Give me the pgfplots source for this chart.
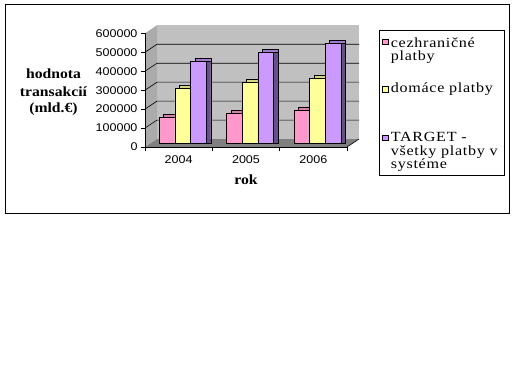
\documentclass[border=0pt]{standalone}
\usepackage{fontspec}
\usepackage{pgfplots}
\usepackage{pgfplotstable}
\pgfplotsset{compat=1.18}
\newfontfamily\tkf[FakeStretch=1.12]{Liberation Sans}
\newfontfamily\srf[FakeStretch=1.12]{Liberation Serif}
\newfontfamily\legf[FakeStretch=1.15,LetterSpace=5]{Liberation Serif}
\definecolor{cpink}{HTML}{FF99CC}
\definecolor{cpinkD}{HTML}{B36B8F}
\definecolor{cpinkT}{HTML}{D680AB}
\definecolor{cyel}{HTML}{FFFF99}
\definecolor{cyelD}{HTML}{B3B36B}
\definecolor{cyelT}{HTML}{D6D680}
\definecolor{cpur}{HTML}{CC99FF}
\definecolor{cpurD}{HTML}{66508A}
\definecolor{cpurT}{HTML}{A37ACC}
\definecolor{wallback}{HTML}{C0C0C0}
\definecolor{wallleft}{HTML}{ABABAB}
\definecolor{floorc}{HTML}{808080}
\pgfplotstableread{
year pink yellow purple
2004 137000 290000 431000
2005 158000 320000 480000
2006 176000 343000 528000
}\datatable
\begin{document}
\begin{tikzpicture}
\begin{scope}[x=1pt,y=1pt]
\path[use as bounding box] (0,0) rectangle (517,384);
\fill[white] (0,0) rectangle (517,384);
\draw[line width=0.8pt] (5,170.5) rectangle (509.5,380);
% walls
\fill[wallback] (157,245) rectangle (359,358.7);
\fill[wallleft] (145,237) -- (157,245) -- (157,358.7) -- (145,350.7) -- cycle;
\fill[floorc] (145,237) -- (347,237) -- (359,245) -- (157,245) -- cycle;
\foreach \k in {1,...,5} \draw[line width=0.6pt] (145,{237+\k*18.95}) -- (157,{245+\k*18.95}) -- (359,{245+\k*18.95});
\draw[line width=0.6pt] (347,237) -- (359,245);
% legend
\draw[line width=0.8pt, fill=white] (379.3,209) rectangle (504,354);
\draw[line width=0.5pt, fill=cpink] (382.7,339.3) rectangle (388.7,344.7);
\draw[line width=0.5pt, fill=cyel] (382.7,292) rectangle (388.7,297.3);
\draw[line width=0.5pt, fill=cpur] (382.7,243.3) rectangle (388.7,249);
\begin{scope}[every node/.style={anchor=base west, inner sep=0pt, font=\legf\fontsize{14}{15}\selectfont}]
\node at (390.7,337) {cezhraničné};
\node at (390.7,323.7) {platby};
\node at (390.7,291.3) {domáce platby};
\node at (390.7,242.3) {TARGET -};
\node at (390.7,229) {všetky platby v};
\node at (390.7,215.7) {systéme};
\end{scope}
\begin{scope}[every node/.style={anchor=base, inner sep=0pt, font=\srf\bfseries\fontsize{14}{16}\selectfont}]
\node at (53.5,306) {hodnota};
\node at (53.5,288) {transakcií};
\node at (53.5,272) {(mld.€)};
\node at (246,200) {rok};
\end{scope}
\end{scope}
\begin{axis}[
  at={(145pt,237pt)}, anchor=south west,
  scale only axis, width=202pt, height=113.7pt,
  clip=false,
  xmin=2003.5, xmax=2006.5, ymin=0, ymax=600000,
  scaled y ticks=false,
  axis x line*=bottom, axis y line*=left,
  axis line style={-, line width=0.6pt},
  tick align=outside, major tick length=4pt,
  tick style={black, line width=0.6pt},
  xtick={2003.5,2004.5,2005.5,2006.5}, xticklabels={},
  extra x ticks={2004,2005,2006}, extra x tick labels={2004,2005,2006},
  extra x tick style={tick style={draw=none}},
  ytick={0,100000,200000,300000,400000,500000,600000},
  yticklabels={0,100000,200000,300000,400000,500000,600000},
  tick label style={font=\tkf\fontsize{11.2}{13}\selectfont},
  xticklabel style={yshift=-1pt},
  every axis plot/.append style={ybar, bar width=15.7pt, draw=black, line width=0.4pt},
]
\addplot[fill=cpinkT, bar shift=-7.2pt, yshift=6.7pt] table[x=year,y=pink] {\datatable};
\addplot[fill=cpinkD, bar shift=-7.2pt, yshift=3.7pt] table[x=year,y=pink] {\datatable};
\addplot[fill=cpink, bar shift=-11.7pt, yshift=3.7pt] table[x=year,y=pink] {\datatable};
\addplot[fill=cyelT, bar shift=8.5pt, yshift=6.7pt] table[x=year,y=yellow] {\datatable};
\addplot[fill=cyelD, bar shift=8.5pt, yshift=3.7pt] table[x=year,y=yellow] {\datatable};
\addplot[fill=cyel, bar shift=4pt, yshift=3.7pt] table[x=year,y=yellow] {\datatable};
\addplot[fill=cpurT, bar shift=24.2pt, yshift=6.7pt] table[x=year,y=purple] {\datatable};
\addplot[fill=cpurD, bar shift=24.2pt, yshift=3.7pt] table[x=year,y=purple] {\datatable};
\addplot[fill=cpur, bar shift=19.7pt, yshift=3.7pt] table[x=year,y=purple] {\datatable};
\end{axis}
\end{tikzpicture}
\end{document}
